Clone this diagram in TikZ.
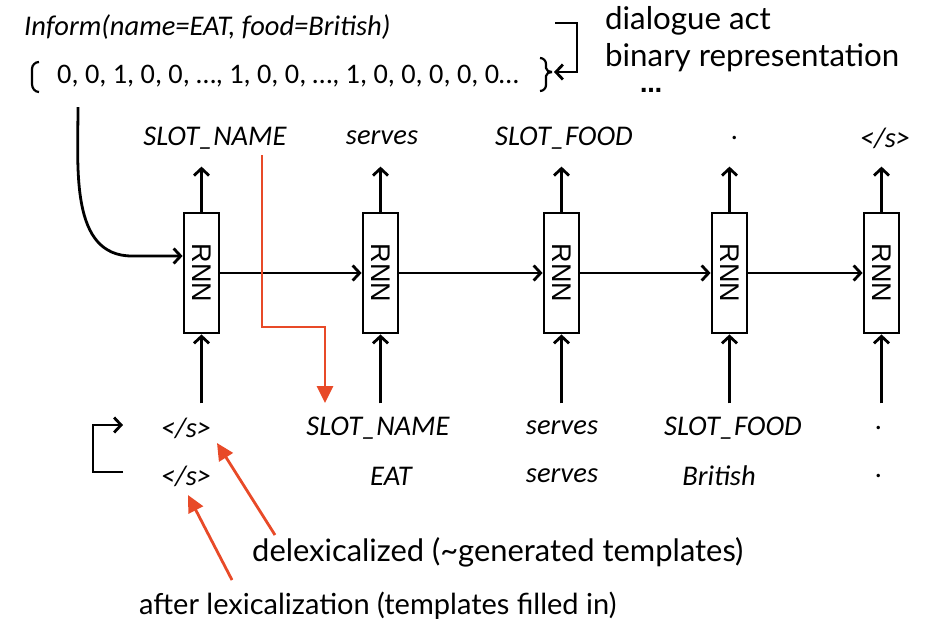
\documentclass[tikz,border=0pt]{standalone}
\usepackage{fontspec}
\setmainfont{Carlito}
\newfontfamily\annfont{Lato}
\newfontfamily\rnnfont{Liberation Sans}
\newfontfamily\dotfont{DejaVu Sans}
\usetikzlibrary{arrows.meta}
\definecolor{annred}{RGB}{232,74,40}
\begin{document}
\begin{tikzpicture}[x=1pt,y=-1pt,
  arr/.style={line width=2.8pt,-{Straight Barb[length=7pt,width=15pt,line width=2.8pt]}},
  rnn/.style={draw,line width=2.8pt,minimum width=35pt,minimum height=120pt,inner sep=0pt,
    label={[rotate=-90,font=\rnnfont\fontsize{27}{27}\selectfont]center:RNN}},
  word/.style={font=\itshape\fontsize{28.5}{28.5}\selectfont,inner sep=0pt},
  ann/.style={font=\annfont\fontsize{31.3}{31.3}\selectfont,inner sep=0pt,anchor=west},
  redarr/.style={annred,line width=2.8pt,-{Triangle[length=17pt,width=16pt]}}
]
\useasboundingbox (0,0) rectangle (930,625);

% dialogue act
\node[word,anchor=west] (da) at (24,27) {Inform(name=EAT, food=British)};
\node[font=\fontsize{28.3}{28.3}\selectfont,inner sep=0pt,anchor=west] (vec) at (57,76) {0, 0, 1, 0, 0, \dots, 1, 0, 0, \dots, 1, 0, 0, 0, 0, 0\dots};
\draw[line width=2.2pt] (39,62) to[out=180,in=90] (32,69) -- (32,84) to[out=-90,in=180] (39,92);
\draw[line width=2.2pt] (540,58) to[out=0,in=90] (546,64) -- (546,68) to[out=-90,in=180] (552,72)
  (552,72) to[out=180,in=90] (546,76) -- (546,85) to[out=-90,in=0] (540,91);
\coordinate (br) at (554,72);
\draw[arr] (555,23) -- (577,23) -- (577,72) -- (br);

\node[ann] (ann1) at (605,21) {dialogue act};
\node[ann] (ann2) at (605,58) {binary representation};
\node[font=\dotfont\bfseries\fontsize{22}{22}\selectfont,inner sep=0pt] (ann3) at (651,90) {…};

% RNN cells
\node[rnn] (r1) at (201.5,273) {};
\node[rnn] (r2) at (380.5,273) {};
\node[rnn] (r3) at (561.5,273) {};
\node[rnn] (r4) at (729.5,273) {};
\node[rnn] (r5) at (881.5,273) {};

\foreach \a/\b in {r1/r2,r2/r3,r3/r4,r4/r5}
  \draw[arr] (\a.east) -- (\b.west);

% outputs
\node[word] (t1) at (215,138) {SLOT\_NAME};
\node[word] (t2) at (382,138) {serves};
\node[word] (t3) at (564,138) {SLOT\_FOOD};
\node[word] (t4) at (735,138) {.};
\node[word] (t5) at (885,138) {</s>};
\foreach \r in {r1,r2,r3,r4,r5}
  \draw[arr] (\r.north) -- ++(0,-45);

% inputs
\node[word] (b1) at (186,428) {</s>};
\node[word] (b2) at (378,428) {SLOT\_NAME};
\node[word] (b3) at (562,428) {serves};
\node[word] (b4) at (733,428) {SLOT\_FOOD};
\node[word] (b5) at (879,428) {.};
\node[word] (c1) at (186,476) {</s>};
\node[word] (c2) at (391,476) {EAT};
\node[word] (c3) at (562,476) {serves};
\node[word] (c4) at (719,476) {British};
\node[word] (c5) at (879,476) {.};
\foreach \r in {r1,r2,r3,r4,r5}
  \draw[arr] ([yshift=-69pt]\r.south) -- (\r.south);

% dialogue act into first cell
\draw[arr] (78,107) to[out=-90,in=180] (132,256) -- ([yshift=17pt]r1.west);

% loop at bottom left
\draw[arr] (123,472) -- (93,472) -- (93,425) -- (123,425);

% red copy arrow
\coordinate (rs) at (262,155);
\coordinate (re) at (325,403);
\draw[redarr] (rs) -- (262,327) -- (325,327) -- (re);

% annotations
\node[ann,font=\annfont\fontsize{30.9}{30.9}\selectfont] (d1) at (252,552) {delexicalized (\textasciitilde generated templates)};
\node[ann,font=\annfont\fontsize{29}{29}\selectfont] (d2) at (139,606) {after lexicalization (templates filled in)};
\coordinate (d1t) at (275,535);
\coordinate (d2t) at (232,580);
\draw[redarr] (d1t) -- (217,443);
\draw[redarr] (d2t) -- (188,495);
\end{tikzpicture}
\end{document}
